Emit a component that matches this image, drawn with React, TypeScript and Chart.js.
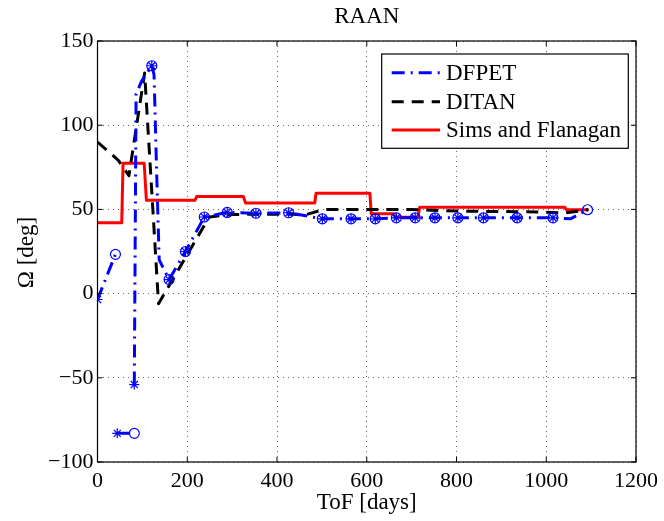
import React, { useEffect, useRef } from "react";
import { Chart, registerables } from "chart.js";

Chart.register(...registerables);

// ---- text ----
const chartTitle = "RAAN";
const xAxisTitle = "ToF [days]";
const yAxisTitle = "Ω [deg]";
const seriesNames = ["DFPET", "DITAN", "Sims and Flanagan"];

// ---- ticks ----
const xTicks = [0, 200, 400, 600, 800, 1000, 1200];
const yTicks = [-100, -50, 0, 50, 100, 150];

// ---- DFPET (null = gap between phases) ----
const dfpetX = [0, 40, null, 44, 82, null, 82, 86, 98, 121, 126, 132, 137.5, 159.5, 196, 238, 289, 353, 426, 501, 565, 619, 666, 708, 752, 803, 860, 935, 1015, 1054, 1092];
const dfpetY = [-3.5, 23.3, null, -83, -83, null, -54, 118.5, 126, 135.3, 130, 70, 20, 8.3, 25, 45.5, 48.2, 47.7, 48, 44.4, 44.4, 44.4, 45, 45, 45, 45, 45, 45, 45, 44.4, 49.8];

// DFPET phase-start markers (*) and phase-end markers (o)
const dfpetStartX = [0, 44, 82, 121, 159.5, 196, 238, 289, 353, 426, 501, 565, 619, 666, 708, 752, 803, 860, 935, 1015];
const dfpetStartY = [-3.5, -83, -54, 135.3, 8.3, 25, 45.5, 48.2, 47.7, 48, 44.4, 44.4, 44.4, 45, 45, 45, 45, 45, 45, 45];
const dfpetEndX = [40, 82, 121, 159.5, 196, 238, 289, 353, 426, 501, 565, 619, 666, 708, 752, 803, 860, 935, 1015, 1092];
const dfpetEndY = [23.3, -83, 135.3, 8.3, 25, 45.5, 48.2, 47.7, 48, 44.4, 44.4, 44.4, 45, 45, 45, 45, 45, 45, 45, 49.8];

// ---- DITAN ----
const ditanX = [0, 47, 70, 105, 136, 249, 300, 430, 460, 505, 700, 800, 980, 1040, 1094];
const ditanY = [90, 79, 70, 131, -6, 45.5, 47, 47.2, 46.5, 50, 50, 49, 48.5, 47.8, 49.8];

// ---- Sims and Flanagan ----
const sfX = [0, 54, 57, 104, 109, 217, 221, 325, 330, 484, 487, 607, 610, 660, 663, 714, 718, 1041, 1045, 1094];
const sfY = [42, 42, 77.4, 77.4, 55.4, 55.4, 57.6, 57.6, 53.8, 53.8, 59.6, 59.6, 47.4, 47.4, 45.4, 45.4, 51.3, 51.3, 49.8, 49.8];

const BLUE = "#0000ff";
const BLACK = "#000000";
const RED = "#ff0000";
const FONT = "'Liberation Serif', 'Times New Roman', serif";
const BLUE_DASH = [13, 6, 2, 6];
const BLACK_DASH = [12, 8];

function pts(xs: (number | null)[], ys: (number | null)[]) {
  return xs.map((x, i) => ({ x: x as any, y: ys[i] as any }));
}

const overlayPlugin = {
  id: "matlabOverlay",
  afterDraw(chart: any) {
    const ctx = chart.ctx as CanvasRenderingContext2D;
    const a = chart.chartArea;
    const xs = chart.scales.x;
    const ys = chart.scales.y;
    ctx.save();
    // box
    ctx.strokeStyle = "#000";
    ctx.lineWidth = 1.2;
    ctx.setLineDash([]);
    ctx.strokeRect(a.left, a.top, a.right - a.left, a.bottom - a.top);
    // inward ticks
    ctx.lineWidth = 1;
    const tl = 5;
    ctx.beginPath();
    xTicks.forEach((v) => {
      const px = xs.getPixelForValue(v);
      ctx.moveTo(px, a.bottom);
      ctx.lineTo(px, a.bottom - tl);
      ctx.moveTo(px, a.top);
      ctx.lineTo(px, a.top + tl);
    });
    yTicks.forEach((v) => {
      const py = ys.getPixelForValue(v);
      ctx.moveTo(a.left, py);
      ctx.lineTo(a.left + tl, py);
      ctx.moveTo(a.right, py);
      ctx.lineTo(a.right - tl, py);
    });
    ctx.stroke();

    // titles
    ctx.fillStyle = "#000";
    ctx.textAlign = "center";
    ctx.textBaseline = "alphabetic";
    ctx.font = `23px ${FONT}`;
    const cx = (a.left + a.right) / 2;
    ctx.fillText(chartTitle, cx, 23.3);
    ctx.fillText(xAxisTitle, cx, 509);
    ctx.save();
    ctx.translate(32.7, 252.5);
    ctx.rotate(-Math.PI / 2);
    ctx.fillText(yAxisTitle, 0, 0);
    ctx.restore();

    // legend
    const lx0 = 381.7, ly0 = 54, lx1 = 628.3, ly1 = 148.3;
    ctx.fillStyle = "#fff";
    ctx.fillRect(lx0, ly0, lx1 - lx0, ly1 - ly0);
    ctx.strokeStyle = "#000";
    ctx.lineWidth = 1.2;
    ctx.strokeRect(lx0, ly0, lx1 - lx0, ly1 - ly0);
    const rows = [
      { color: BLUE, dash: BLUE_DASH, ly: 72.7, by: 80 },
      { color: BLACK, dash: BLACK_DASH, ly: 101.7, by: 109.3 },
      { color: RED, dash: [], ly: 130, by: 137.3 },
    ];
    rows.forEach((r, i) => {
      ctx.beginPath();
      ctx.strokeStyle = r.color;
      ctx.lineWidth = 3;
      ctx.setLineDash(r.dash);
      ctx.moveTo(391.7, r.ly);
      ctx.lineTo(440, r.ly);
      ctx.stroke();
      ctx.setLineDash([]);
      ctx.fillStyle = "#000";
      ctx.textAlign = "left";
      ctx.font = `23px ${FONT}`;
      ctx.fillText(seriesNames[i], 446, r.by);
    });
    ctx.restore();
  },
};

export default function App() {
  const ref = useRef<HTMLCanvasElement | null>(null);
  useEffect(() => {
    if (!ref.current) return;
    const chart = new Chart(ref.current, {
      type: "scatter",
      data: {
        datasets: [
          {
            label: "DFPET start",
            data: pts(dfpetStartX, dfpetStartY),
            showLine: false,
            pointStyle: "star",
            pointRadius: 5,
            pointBorderColor: BLUE,
            pointBackgroundColor: BLUE,
            pointBorderWidth: 1.2,
          } as any,
          {
            label: "DFPET end",
            data: pts(dfpetEndX, dfpetEndY),
            showLine: false,
            pointStyle: "circle",
            pointRadius: 5,
            pointBorderColor: BLUE,
            pointBackgroundColor: "rgba(0,0,0,0)",
            pointBorderWidth: 1.2,
          } as any,
          {
            label: seriesNames[0],
            data: pts(dfpetX, dfpetY),
            showLine: true,
            spanGaps: false,
            borderColor: BLUE,
            borderWidth: 3,
            borderDash: BLUE_DASH,
            borderJoinStyle: "round",
            pointRadius: 0,
          } as any,
          {
            label: seriesNames[1],
            data: pts(ditanX, ditanY),
            showLine: true,
            borderColor: BLACK,
            borderWidth: 3,
            borderDash: BLACK_DASH,
            borderJoinStyle: "round",
            pointRadius: 0,
          } as any,
          {
            label: seriesNames[2],
            data: pts(sfX, sfY),
            showLine: true,
            borderColor: RED,
            borderWidth: 3,
            borderJoinStyle: "round",
            pointRadius: 0,
          } as any,
        ],
      },
      options: {
        responsive: false,
        animation: false,
        devicePixelRatio: 1,
        layout: { padding: { left: 0, right: 23.5, top: 41, bottom: 0 } },
        plugins: {
          legend: { display: false },
          title: { display: false },
          tooltip: { enabled: false },
        },
        scales: {
          x: {
            type: "linear",
            min: 0,
            max: 1200,
            afterBuildTicks: (s: any) => {
              s.ticks = xTicks.map((v) => ({ value: v }));
            },
            afterFit: (s: any) => {
              s.height = 59;
            },
            grid: { color: "rgba(0,0,0,0.6)", lineWidth: 1, drawTicks: false },
            border: { display: false, dash: [1, 4] },
            ticks: {
              autoSkip: false,
              maxRotation: 0,
              padding: 6,
              color: "#000",
              font: { family: FONT, size: 22 },
              callback: (v: any) => String(v),
            },
          },
          y: {
            type: "linear",
            min: -100,
            max: 150,
            afterBuildTicks: (s: any) => {
              s.ticks = yTicks.map((v) => ({ value: v }));
            },
            afterFit: (s: any) => {
              s.width = 97.5;
            },
            grid: { color: "rgba(0,0,0,0.6)", lineWidth: 1, drawTicks: false },
            border: { display: false, dash: [1, 4] },
            ticks: {
              autoSkip: false,
              padding: 4,
              color: "#000",
              font: { family: FONT, size: 22 },
              callback: (v: any) => String(v).replace("-", "\u2212"),
            },
          },
        },
      } as any,
      plugins: [overlayPlugin],
    });
    return () => chart.destroy();
  }, []);
  return (
    <div style={{ position: "absolute", left: 0, top: 0, width: 664, height: 521, background: "#fff" }}>
      <canvas ref={ref} width={664} height={521} />
    </div>
  );
}
